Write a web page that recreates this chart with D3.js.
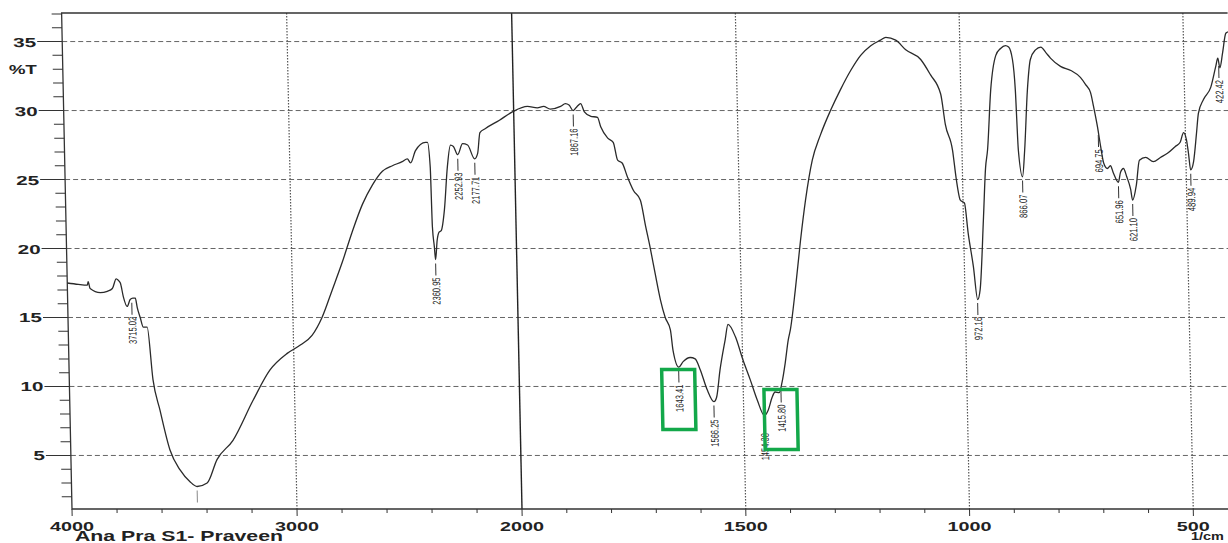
<!DOCTYPE html>
<html>
<head>
<meta charset="utf-8">
<script src="https://cdn.jsdelivr.net/npm/d3@7"></script>
<style>
  body { margin: 0; background: #fff; }
  svg { display: block; }
  text { font-family: "Liberation Sans", Arial, sans-serif; }
</style>
</head>
<body>
<svg id="chart" width="1228" height="543"></svg>
<script>
// spectrum (1/cm, %T)
const wavenumbers = [
  4000, 3951, 3911, 3907, 3899, 3854, 3823, 3800, 3782, 3773, 3764, 3752, 3736, 3722, 3710, 3699, 3691, 3679, 3666, 3649,
  3628, 3600, 3559, 3516, 3473, 3442, 3397, 3351, 3278, 3185, 3107, 3029, 2970, 2917, 2871, 2823, 2776, 2729, 2681, 2635,
  2589, 2544, 2500, 2477, 2463, 2440, 2395, 2386, 2376, 2372, 2365, 2361, 2352, 2342, 2333, 2317, 2300, 2284, 2271, 2253,
  2230, 2208, 2178, 2164, 2152, 2127, 2064, 2006, 1969, 1947, 1933, 1918, 1895, 1884, 1876, 1867, 1858, 1850, 1842, 1829,
  1813, 1806, 1791, 1779, 1770, 1760, 1749, 1736, 1721, 1711, 1701, 1691, 1681, 1671, 1660, 1655, 1643, 1633, 1617, 1606,
  1595, 1581, 1566, 1560, 1551, 1538, 1531, 1515, 1499, 1484, 1469, 1454, 1445, 1436, 1429, 1420, 1413, 1405, 1397, 1392,
  1379, 1365, 1352, 1335, 1316, 1292, 1269, 1245, 1222, 1199, 1177, 1165, 1143, 1121, 1088, 1067, 1045, 1036, 1021, 1014,
  1006, 997, 990, 980, 972, 966, 955, 948, 943, 933, 920, 909, 898, 891, 883, 878, 874, 866, 860, 851,
  843, 831, 819, 808, 798, 776, 753, 732, 721, 710, 704, 696, 690, 684, 676, 669, 663, 652, 647, 640,
  633, 625, 621, 612, 604, 590, 573, 557, 541, 523, 512, 504, 498, 494, 490, 483, 475, 470, 458, 441,
  429, 424, 420, 413, 405, 400
];
const transmittance = [
  17.5, 17.4, 17.35, 17.6, 17.1, 16.8, 16.9, 17.1, 17.8, 17.7, 17.5, 16.5, 15.8, 16.3, 16.4, 16.4, 15.7, 15.0, 14.3, 14.3,
  10.5, 8.3, 5.4, 3.95, 3.1, 2.75, 3.0, 4.7, 6.1, 9.0, 11.2, 12.4, 13.0, 13.7, 15.0, 17.0, 19.0, 21.2, 23.2, 24.6,
  25.6, 26.0, 26.3, 26.5, 26.2, 27.1, 27.7, 27.7, 25.9, 21.6, 20.1, 19.2, 20.6, 21.2, 21.3, 22.8, 25.9, 27.5, 27.4, 26.8,
  27.6, 27.5, 26.5, 26.9, 28.4, 28.7, 29.3, 29.9, 30.3, 30.2, 30.3, 30.1, 30.3, 30.5, 30.4, 30.0, 30.3, 30.5, 29.9, 29.6,
  29.5, 28.8, 28.0, 27.7, 26.4, 26.2, 25.2, 24.2, 23.5, 21.7, 20.0, 18.1, 16.3, 15.0, 14.1, 12.6, 11.4, 11.8, 12.1, 12.0,
  11.2, 9.8, 8.9, 9.2, 11.2, 13.4, 14.5, 13.6, 11.9, 10.5, 9.0, 7.9, 8.3, 9.2, 9.6, 9.55, 10.3, 11.7, 13.4, 14.1,
  17.0, 20.6, 23.5, 26.4, 28.2, 30.0, 31.5, 32.9, 34.0, 34.7, 35.1, 35.3, 35.1, 34.4, 33.7, 32.6, 31.2, 29.0, 27.1, 25.0,
  23.5, 23.3, 21.1, 18.7, 16.3, 17.0, 22.3, 25.9, 27.1, 31.5, 34.0, 34.5, 34.7, 34.6, 33.7, 31.5, 27.1, 25.2, 27.1, 31.5,
  33.7, 34.4, 34.6, 34.2, 33.8, 33.2, 32.9, 32.4, 31.9, 31.3, 30.3, 28.8, 27.4, 26.2, 25.8, 26.0, 25.5, 24.8, 25.5, 25.8,
  25.2, 24.3, 23.5, 24.6, 26.4, 26.6, 26.3, 26.6, 26.9, 27.4, 27.7, 28.4, 27.9, 26.9, 25.7, 26.3, 28.4, 29.8, 30.8, 31.7,
  33.2, 33.8, 33.1, 34.2, 35.6, 35.7
];

const peakWavenumbers = [3715.02, 3442, 2360.95, 2252.93, 2177.71, 1867.16, 1643.41, 1566.25, 1454.38, 1415.80,
  972.16, 866.07, 694.75, 651.96, 621.10, 489.94, 422.42];
const peakLabels = ["3715.02", "", "2360.95", "2252.93", "2177.71", "1867.16", "1643.41", "1566.25", "1454.38", "1415.80",
  "972.16", "866.07", "694.75", "651.96", "621.10", "489.94", "422.42"];
const boxedPeaks = ["1643.41", "1415.80"];

const yTicks = [5, 10, 15, 20, 25, 30, 35];
const xTicks = [4000, 3000, 2000, 1500, 1000, 500];
const xTickLabels = ["4000", "3000", "2000", "1500", "1000", "500"];

const spectrum = wavenumbers.map((w, i) => ({ wn: w, t: transmittance[i] }));

const svg = d3.select("#chart");
const ink = "#333";

// two-speed wavenumber axis, as on the instrument print-out
const x = d3.scaleLinear().domain([4000, 2000, 400]).range([72, 522, 1238]);
const y = d3.scaleLinear().domain([1.12, 37.07]).range([509, 13]);
const plotLeft = x(4000), plotRight = x(400), plotTop = y.range()[1], plotBottom = y.range()[0];

// the scan leans a little, keep the lean so the picture lines up
const plot = svg.append("g")
  .attr("transform", `translate(0,${plotBottom}) skewX(1.2) translate(0,${-plotBottom})`);

// grid
plot.append("g").selectAll("line")
  .data(yTicks)
  .join("line")
  .attr("x1", plotLeft).attr("x2", plotRight)
  .attr("y1", (d) => y(d)).attr("y2", (d) => y(d))
  .attr("stroke", "#555")
  .attr("stroke-width", 0.9)
  .attr("stroke-dasharray", "5,3");

plot.append("g").selectAll("line")
  .data(xTicks.filter((d) => d !== 4000))
  .join("line")
  .attr("x1", (d) => x(d)).attr("x2", (d) => x(d))
  .attr("y1", plotTop).attr("y2", plotBottom)
  .attr("stroke", (d) => (d === 2000 ? "#222" : "#555"))
  .attr("stroke-width", (d) => (d === 2000 ? 1.4 : 1.2))
  .attr("stroke-dasharray", (d) => (d === 2000 ? null : "1.5,1.5"));

// frame
plot.append("path")
  .attr("d", `M${plotRight},${plotTop}H${plotLeft}V${plotBottom}H${plotRight}`)
  .attr("fill", "none")
  .attr("stroke", ink)
  .attr("stroke-width", 1.3);

// y ticks
const yMinor = d3.range(2, 38, 1);
plot.append("g").selectAll("line")
  .data(yMinor)
  .join("line")
  .attr("x1", (d) => (d % 5 === 0 ? plotLeft - 25 : plotLeft - 10))
  .attr("x2", plotLeft)
  .attr("y1", (d) => y(d)).attr("y2", (d) => y(d))
  .attr("stroke", ink)
  .attr("stroke-width", 1);

plot.append("g").selectAll("text")
  .data(yTicks)
  .join("text")
  .attr("x", plotLeft - 26)
  .attr("y", (d) => y(d) + 5)
  .attr("text-anchor", "end")
  .attr("font-size", 13)
  .attr("font-weight", "bold")
  .attr("fill", "#222")
  .attr("textLength", (d) => String(d).length * 11.5)
  .attr("lengthAdjust", "spacingAndGlyphs")
  .text((d) => d);

plot.append("text")
  .attr("x", plotLeft - 26)
  .attr("y", y(33) + 5)
  .attr("text-anchor", "end")
  .attr("font-size", 13)
  .attr("font-weight", "bold")
  .attr("fill", "#222")
  .attr("textLength", 28)
  .attr("lengthAdjust", "spacingAndGlyphs")
  .text("%T");

// x ticks
const xMinor = d3.range(4000, 2000, -200).concat(d3.range(2000, 399, -100));
plot.append("g").selectAll("line")
  .data(xMinor)
  .join("line")
  .attr("x1", (d) => x(d)).attr("x2", (d) => x(d))
  .attr("y1", plotBottom)
  .attr("y2", (d) => (xTicks.includes(d) ? plotBottom + 7 : plotBottom + 4))
  .attr("stroke", ink)
  .attr("stroke-width", 1);

// spectrum
const line = d3.line()
  .x((d) => x(d.wn))
  .y((d) => y(d.t))
  .curve(d3.curveMonotoneX);

plot.append("path")
  .datum(spectrum)
  .attr("fill", "none")
  .attr("stroke", "#2a2a2a")
  .attr("stroke-width", 1.3)
  .attr("d", line);

// peak picks
const valueAt = (w) => {
  for (let i = 0; i < spectrum.length - 1; i++) {
    const a = spectrum[i], b = spectrum[i + 1];
    if (w <= a.wn && w >= b.wn) {
      return a.t + ((a.wn - w) / (a.wn - b.wn)) * (b.t - a.t);
    }
  }
  return spectrum[spectrum.length - 1].t;
};

const peaks = peakWavenumbers.map((w, i) => ({ wn: w, label: peakLabels[i], t: valueAt(w) }));

const pick = plot.append("g").selectAll("g")
  .data(peaks)
  .join("g")
  .attr("transform", (d) => `translate(${x(d.wn)},${y(d.t)})`);

pick.append("line")
  .attr("x1", 0).attr("x2", 0)
  .attr("y1", 4).attr("y2", 16)
  .attr("stroke", (d) => (d.label ? ink : "#888"))
  .attr("stroke-width", 1);

pick.append("text")
  .attr("transform", "translate(0,18) rotate(-90)")
  .attr("text-anchor", "end")
  .attr("dy", 4)
  .attr("font-size", 11)
  .attr("fill", "#222")
  .attr("textLength", (d) => (d.label ? d.label.length * 3.9 : 0))
  .attr("lengthAdjust", "spacingAndGlyphs")
  .text((d) => d.label);

pick.filter((d) => boxedPeaks.includes(d.label))
  .append("rect")
  .attr("x", -17)
  .attr("y", 3)
  .attr("width", 33)
  .attr("height", 60)
  .attr("fill", "none")
  .attr("stroke", "#13a84a")
  .attr("stroke-width", 3.5);

// x labels
svg.append("g").selectAll("text")
  .data(xTicks)
  .join("text")
  .attr("x", (d) => x(d))
  .attr("y", 531)
  .attr("text-anchor", "middle")
  .attr("font-size", 13)
  .attr("font-weight", "bold")
  .attr("fill", "#222")
  .attr("textLength", (d, i) => xTickLabels[i].length * 11)
  .attr("lengthAdjust", "spacingAndGlyphs")
  .text((d, i) => xTickLabels[i]);

svg.append("text")
  .attr("x", 75)
  .attr("y", 541)
  .attr("font-size", 14)
  .attr("font-weight", "bold")
  .attr("fill", "#222")
  .attr("textLength", 208)
  .attr("lengthAdjust", "spacingAndGlyphs")
  .text("Ana Pra S1- Praveen");

svg.append("text")
  .attr("x", 1191)
  .attr("y", 540)
  .attr("font-size", 11)
  .attr("font-weight", "bold")
  .attr("fill", "#222")
  .attr("textLength", 33)
  .attr("lengthAdjust", "spacingAndGlyphs")
  .text("1/cm");
</script>
</body>
</html>
